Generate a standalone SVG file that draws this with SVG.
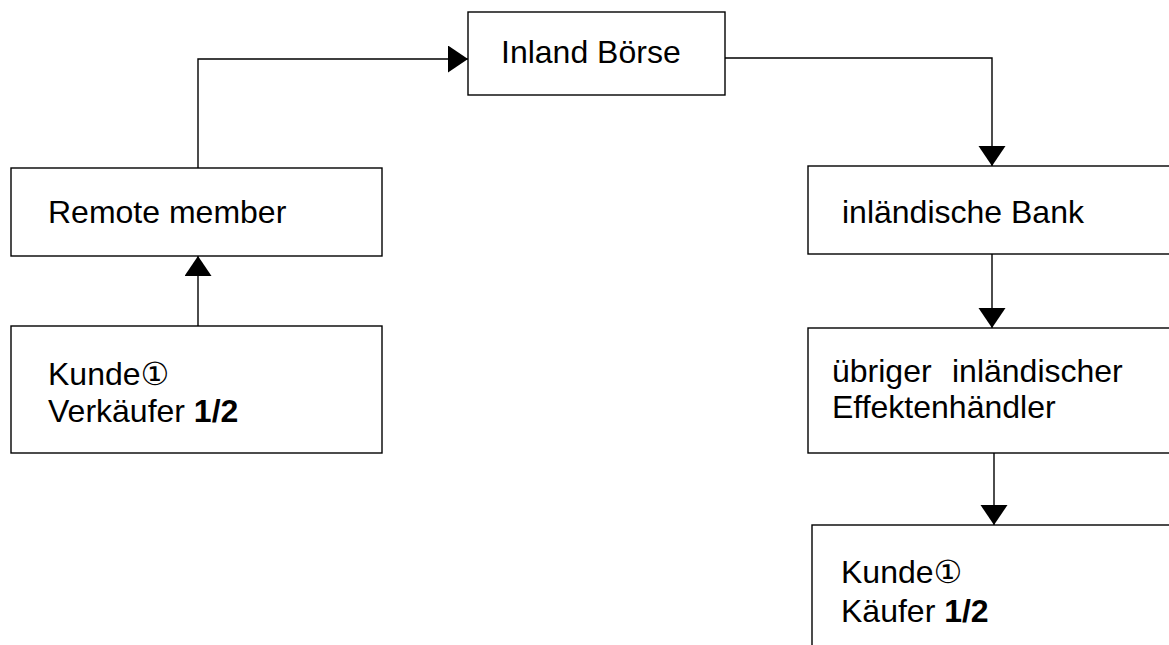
<svg xmlns="http://www.w3.org/2000/svg" width="1169" height="645" viewBox="0 0 1169 645">
<style>
.box{fill:#fff;stroke:#000;stroke-width:1.4}
.lbl{font-family:"Liberation Sans",Arial,"DejaVu Sans","Noto Sans CJK SC",sans-serif;font-size:32px;fill:#000}
.b{font-weight:bold}
.conn{fill:none;stroke:#000;stroke-width:1.4}
</style>
<defs>
<marker id="arr" markerUnits="userSpaceOnUse" markerWidth="21" markerHeight="28" refX="20" refY="13.5" orient="auto" viewBox="0 0 21 28">
<path d="M0,0 L20,13.5 L0,27 z" fill="#000"/>
</marker>
</defs>
<rect width="1169" height="645" fill="#fff"/>
<g id="connectors">
<path class="conn" d="M198,168 V59 H468" marker-end="url(#arr)"/>
<path class="conn" d="M198,326 V256" marker-end="url(#arr)"/>
<path class="conn" d="M725,58 H992 V166" marker-end="url(#arr)"/>
<path class="conn" d="M992,254 V328" marker-end="url(#arr)"/>
<path class="conn" d="M994,453 V525" marker-end="url(#arr)"/>
</g>
<g id="inland-boerse">
<rect class="box" x="468" y="12" width="257" height="83"/>
<text class="lbl" x="501" y="63">Inland Börse</text>
</g>
<g id="remote-member">
<rect class="box" x="11" y="168" width="371" height="88"/>
<text class="lbl" x="48" y="223">Remote member</text>
</g>
<g id="kunde-verkaeufer">
<rect class="box" x="11" y="326" width="371" height="127"/>
<text class="lbl" x="48" y="385">Kunde①</text>
<text class="lbl" x="48" y="422">Verkäufer <tspan class="b">1/2</tspan></text>
</g>
<g id="inlaendische-bank">
<rect class="box" x="808" y="166" width="400" height="88"/>
<text class="lbl" x="842" y="223">inländische Bank</text>
</g>
<g id="uebriger-effektenhaendler">
<rect class="box" x="808" y="328" width="400" height="125"/>
<text class="lbl" y="382"><tspan x="832">übriger</tspan><tspan x="952">inländischer</tspan></text>
<text class="lbl" x="832" y="418">Effektenhändler</text>
</g>
<g id="kunde-kaeufer">
<rect class="box" x="812" y="525" width="400" height="160"/>
<text class="lbl" x="841" y="583">Kunde①</text>
<text class="lbl" x="841" y="622">Käufer <tspan class="b">1/2</tspan></text>
</g>
</svg>
